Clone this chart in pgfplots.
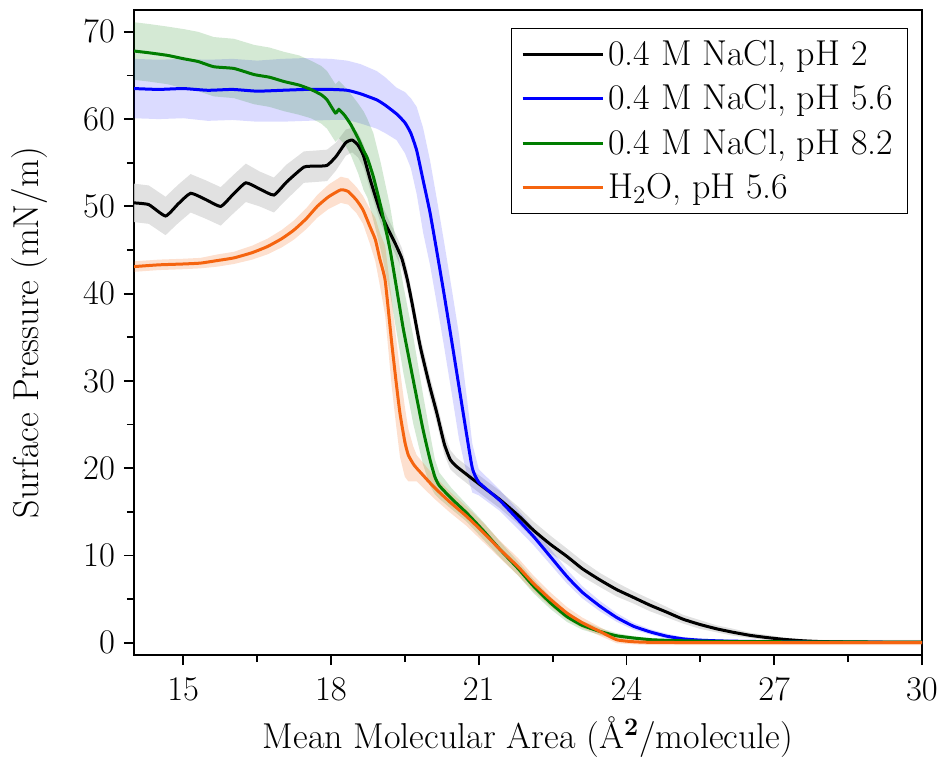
\documentclass[border=0pt]{standalone}
\usepackage{pgfplots}
\usepackage{pgfplotstable}
\pgfplotsset{compat=1.18}
\usepgfplotslibrary{fillbetween}
\definecolor{cOrange}{RGB}{245,100,15}
\definecolor{cGreen}{RGB}{0,125,0}
\definecolor{cBlue}{RGB}{0,0,255}
\newcommand\fs{\fontsize{18}{21.6}\selectfont}

\pgfplotstableread{
x y e
14.0 50.4 2.2
14.3 50.2 2.2
14.64 48.9 2.2
14.9 50.3 2.2
15.15 51.5 2.2
15.45 50.8 2.2
15.76 50.0 2.2
16.0 51.3 2.2
16.27 52.7 2.2
16.55 52.0 2.0
16.84 51.3 2.0
17.1 52.8 2.0
17.45 54.5 1.8
17.7 54.6 1.8
17.92 54.7 1.8
18.1 55.7 1.6
18.3 57.3 1.5
18.43 57.6 1.4
18.55 57.0 1.4
18.66 55.8 1.3
18.8 53.0 1.2
19.0 49.4 1.2
19.15 47.5 1.2
19.3 45.8 1.2
19.44 44.0 1.2
19.55 41.6 1.2
19.65 38.8 1.2
19.81 34.0 1.2
20.0 29.5 1.2
20.15 26.3 1.2
20.3 22.8 1.2
20.42 21.0 1.1
20.55 20.2 1.0
20.82 19.0 1.0
21.1 17.8 1.0
21.43 16.4 1.0
21.8 14.6 1.0
22.11 12.9 1.0
22.45 11.3 1.0
22.79 9.9 0.9
23.1 8.5 0.9
23.46 7.2 0.8
23.8 6.1 0.8
24.14 5.2 0.7
24.48 4.3 0.7
24.82 3.5 0.6
25.15 2.7 0.5
25.49 2.1 0.5
25.83 1.6 0.4
26.17 1.2 0.4
26.51 0.85 0.3
26.85 0.6 0.3
27.18 0.4 0.2
27.52 0.25 0.2
27.86 0.15 0.2
28.5 0.08 0.1
29.2 0.05 0.1
30 0.05 0.1
}\dataA

\pgfplotstableread{
x y e
14.0 63.5 3.4
14.5 63.4 3.4
15.0 63.5 3.4
15.5 63.3 3.5
16.0 63.4 3.5
16.5 63.2 3.5
17.0 63.3 3.6
17.5 63.4 3.6
18.0 63.4 3.5
18.33 63.3 3.4
18.6 62.9 3.4
18.93 62.2 3.3
19.1 61.6 3.2
19.33 60.6 3.0
19.5 59.6 3.5
19.62 58.4 4.0
19.74 56.4 5.0
19.87 53.0 6.0
20.01 49.3 6.0
20.15 44.8 6.0
20.3 39.8 6.0
20.45 34.6 6.0
20.6 29.3 6.0
20.75 24.0 4.5
20.87 20.0 2.8
21.0 18.4 1.5
21.43 16.3 1.2
21.8 14.1 1.1
22.11 12.2 1.0
22.45 9.9 0.9
22.79 7.6 0.8
23.1 5.8 0.7
23.46 4.2 0.6
23.8 2.9 0.5
24.14 1.9 0.4
24.48 1.25 0.3
24.82 0.75 0.3
25.15 0.45 0.2
25.49 0.3 0.2
26.0 0.2 0.1
27.0 0.12 0.1
28.0 0.08 0.1
30 0.05 0.1
}\dataB

\pgfplotstableread{
x y e
14.0 67.8 3.3
14.3 67.6 3.3
14.68 67.3 3.3
15.02 66.9 3.4
15.3 66.6 3.4
15.62 66.0 3.4
16.03 65.8 3.4
16.44 65.1 3.4
16.75 64.8 3.4
17.05 64.3 3.4
17.35 63.9 3.4
17.59 63.4 3.3
17.8 62.8 3.3
17.92 62.2 3.3
18.09 60.7 3.3
18.16 61.1 3.3
18.28 60.4 3.3
18.4 59.4 3.5
18.55 57.8 4.0
18.66 56.4 4.5
18.74 55.5 4.5
18.86 53.4 5.0
19.01 50.0 5.0
19.2 45.0 5.0
19.37 39.3 5.0
19.47 35.9 5.0
19.67 30.1 5.0
19.87 24.4 4.0
20.01 21.0 3.0
20.11 19.0 2.0
20.2 18.0 1.5
20.45 16.5 1.2
20.75 14.9 1.0
21.1 12.8 1.0
21.43 10.7 0.9
21.8 8.5 0.8
22.11 6.5 0.8
22.45 4.6 0.7
22.79 3.0 0.6
23.1 2.0 0.5
23.46 1.3 0.4
23.8 0.8 0.3
24.14 0.55 0.2
24.5 0.35 0.2
25.0 0.25 0.1
26 0.15 0.1
28 0.1 0.1
30 0.08 0.1
}\dataC

\pgfplotstableread{
x y e
14.0 43.1 0.6
14.5 43.3 0.6
15.0 43.4 0.6
15.35 43.5 0.6
15.7 43.8 0.7
16.03 44.1 0.7
16.4 44.7 0.8
16.71 45.4 0.9
17.0 46.3 1.0
17.25 47.3 1.1
17.5 48.6 1.2
17.72 50.0 1.3
17.95 51.1 1.4
18.2 51.9 1.5
18.35 51.7 1.5
18.52 50.7 1.5
18.65 49.6 1.6
18.79 47.7 2.0
18.9 46.2 2.5
18.99 44.0 3.0
19.1 41.5 4.0
19.23 34.5 5.0
19.32 30.0 5.0
19.4 26.3 5.0
19.5 23.0 4.0
19.57 21.5 3.0
19.67 20.5 2.0
19.74 20.0 1.5
20.08 17.9 1.3
20.4 16.2 1.2
20.75 14.5 1.1
21.1 12.6 1.1
21.43 10.7 1.0
21.8 8.7 1.0
22.11 6.8 0.9
22.45 5.0 0.8
22.79 3.4 0.7
23.1 2.3 0.6
23.46 1.3 0.5
23.8 0.35 0.4
24.14 0.12 0.3
24.5 0.05 0.3
25.5 0.02 0.3
27 0.02 0.3
30 0.02 0.3
}\dataD

\begin{document}
\begin{tikzpicture}
\begin{axis}[
  scale only axis,
  width=394pt, height=322.5pt,
  xmin=14, xmax=30, ymin=-1.4, ymax=72.5,
  xtick={15,18,21,24,27,30},
  ytick={0,10,20,30,40,50,60,70},
  minor x tick num=1, minor y tick num=1,
  tick align=outside, tick pos=left,
  major tick length=5pt, minor tick length=3.5pt,
  every tick/.style={black, line width=0.9pt},
  axis line style={line width=1.2pt},
  tick label style={font=\fs},
  xticklabel style={yshift=-3pt},
  yticklabel style={xshift=-1pt},
  xlabel={Mean Molecular Area (Å\textsuperscript{\textbf{2}}/molecule)},
  ylabel={Surface Pressure (mN/m)},
  label style={font=\fs},
  xlabel style={at={(axis description cs:0.5,-0.127)}, anchor=center},
  ylabel style={at={(axis description cs:-0.132,0.5)}, anchor=center},
  legend style={font=\fs, at={(0.982,0.972)}, anchor=north east, draw=black, line width=0.6pt,
    row sep=4pt, inner xsep=5pt, inner ysep=4pt},
  legend cell align=left,
  legend image code/.code={\draw[#1, line width=1.5pt] (0pt,0pt) -- (40pt,0pt);},
  clip=true,
]
% bands
\addplot[draw=none, name path=aU, forget plot] table[x=x, y expr=\thisrow{y}+\thisrow{e}] {\dataA};
\addplot[draw=none, name path=aL, forget plot] table[x=x, y expr=\thisrow{y}-\thisrow{e}] {\dataA};
\addplot[fill=black!15, fill opacity=0.8, forget plot] fill between[of=aU and aL];
\addplot[draw=none, name path=bU, forget plot] table[x=x, y expr=\thisrow{y}+\thisrow{e}] {\dataB};
\addplot[draw=none, name path=bL, forget plot] table[x=x, y expr=\thisrow{y}-\thisrow{e}] {\dataB};
\addplot[fill=cBlue, fill opacity=0.14, forget plot] fill between[of=bU and bL];
\addplot[draw=none, name path=cU, forget plot] table[x=x, y expr=\thisrow{y}+\thisrow{e}] {\dataC};
\addplot[draw=none, name path=cL, forget plot] table[x=x, y expr=\thisrow{y}-\thisrow{e}] {\dataC};
\addplot[fill=cGreen, fill opacity=0.17, forget plot] fill between[of=cU and cL];
\addplot[draw=none, name path=dU, forget plot] table[x=x, y expr=\thisrow{y}+\thisrow{e}] {\dataD};
\addplot[draw=none, name path=dL, forget plot] table[x=x, y expr=\thisrow{y}-\thisrow{e}] {\dataD};
\addplot[fill=cOrange, fill opacity=0.2, forget plot] fill between[of=dU and dL];
% lines
\addplot[black, line width=1.5pt, smooth, tension=0.3] table[x=x,y=y] {\dataA};
\addlegendentry{0.4 M NaCl, pH 2}
\addplot[cBlue, line width=1.5pt, smooth, tension=0.3] table[x=x,y=y] {\dataB};
\addlegendentry{0.4 M NaCl, pH 5.6}
\addplot[cGreen, line width=1.5pt, smooth, tension=0.3] table[x=x,y=y] {\dataC};
\addlegendentry{0.4 M NaCl, pH 8.2}
\addplot[cOrange, line width=1.5pt, smooth, tension=0.3] table[x=x,y=y] {\dataD};
\addlegendentry{H\textsubscript{2}O, pH 5.6}
\end{axis}
\pgfresetboundingbox
\path[use as bounding box] ([shift={(-67pt,-51pt)}]current axis.south west) rectangle ([shift={(8pt,5pt)}]current axis.north east);
\end{tikzpicture}
\end{document}
